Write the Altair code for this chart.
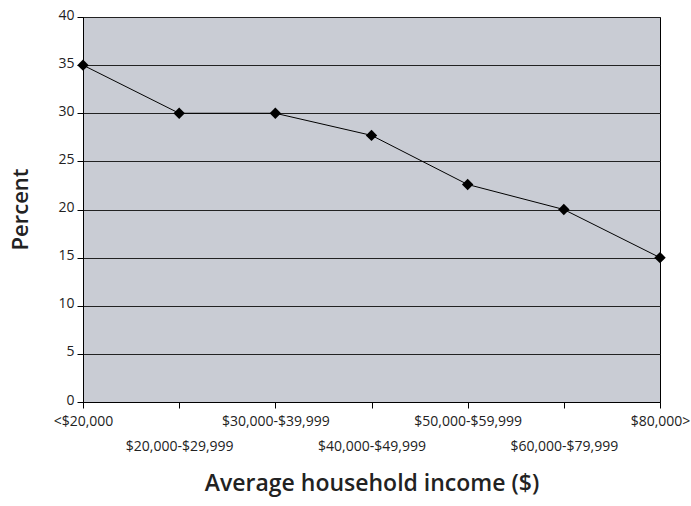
import json
import altair as alt
import pandas as pd

categories = ["<$20,000", "$20,000-$29,999", "$30,000-$39,999", "$40,000-$49,999",
              "$50,000-$59,999", "$60,000-$79,999", "$80,000>"]
percent = [35, 30, 30, 27.7, 22.6, 20, 15]
y_ticks = [0, 5, 10, 15, 20, 25, 30, 35, 40]

df = pd.DataFrame({"income": categories, "percent": percent})

FONT = "Open Sans"
label_expr = ("indexof(" + json.dumps(categories) + ", datum.value) % 2 == 1 ? "
              "['', datum.label] : datum.label")

x = alt.X("income:N", sort=categories,
          scale=alt.Scale(type="point", padding=0),
          axis=alt.Axis(title="Average household income ($)", labelAngle=0,
                        labelExpr=label_expr, labelLineHeight=25,
                        labelBaseline="top", labelPadding=6,
                        labelOverlap=False, labelBound=False, labelFlush=False,
                        tickSize=6, tickColor="black", domainColor="black",
                        labelFont=FONT, labelFontSize=14, labelColor="#222",
                        titleFont=FONT, titleFontSize=23, titleFontWeight=600,
                        titleColor="#222", titleBaseline="middle", titleY=81,
                        grid=False))
y = alt.Y("percent:Q", scale=alt.Scale(domain=[0, 40], nice=False),
          axis=alt.Axis(title="Percent", values=y_ticks, tickSize=6, labelPadding=3,
                        tickColor="black", domainColor="black",
                        labelBaseline="alphabetic", labelOffset=2,
                        labelFont=FONT, labelFontSize=14, labelColor="#222",
                        titleFont=FONT, titleFontSize=22, titleFontWeight=600,
                        titleColor="#222", titleX=-63, titleY=192,
                        titleBaseline="middle", titleAlign="center",
                        gridColor="#222", gridWidth=1, gridOpacity=1))

line = alt.Chart(df).mark_line(color="black", strokeWidth=1).encode(x=x, y=y)
pts = alt.Chart(df).mark_point(shape="diamond", filled=True, color="black",
                               size=130, opacity=1).encode(x=x, y=y)

chart = (line + pts).properties(
    width=577, height=385,
    autosize=alt.AutoSizeParams(type="none"),
    padding={"left": 83, "top": 17, "right": 31, "bottom": 104},
    background="white",
).configure_view(fill="#C9CCD4", stroke="black", strokeWidth=1)

chart.save("out.html", embed_options={"renderer": "svg", "actions": False})
